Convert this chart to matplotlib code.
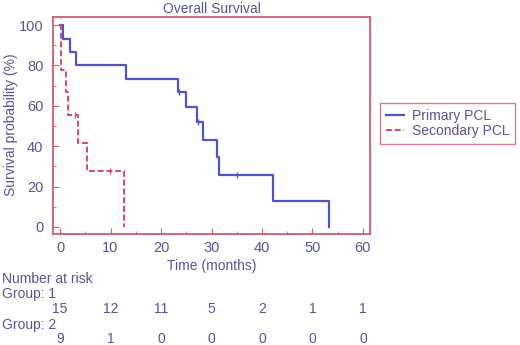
import matplotlib
matplotlib.use("Agg")
import matplotlib.pyplot as plt

plt.rcParams['font.family'] = ['Liberation Sans', 'DejaVu Sans']

# Kaplan-Meier step data (months, survival %)
prim_t = [0, 0.6, 2.0, 3.2, 13.1, 23.3, 24.9, 27.2, 28.3, 31.1, 31.5, 42.2, 53.3]
prim_s = [100, 93.3, 86.7, 80.0, 73.3, 66.7, 59.3, 51.9, 43.2, 34.6, 25.9, 13.0, 0]
prim_cens_t = [23.5, 27.4, 35.0]
prim_cens_s = [66.7, 51.9, 25.9]

sec_t = [0, 0.2, 1.1, 1.5, 3.5, 5.3, 12.7]
sec_s = [100, 77.8, 66.7, 55.6, 41.7, 27.8, 0]
sec_cens_t = [9.9, 3.0]
sec_cens_s = [27.8, 55.6]

risk_times = [0, 10, 20, 30, 40, 50, 60]
risk_g1 = [15, 12, 11, 5, 2, 1, 1]
risk_g2 = [9, 1, 0, 0, 0, 0, 0]

blue = "#5353c4"
red = "#d24a6a"
txt = "#55558f"
frame = "#cf5a72"

fig = plt.figure(figsize=(5.2, 3.45), dpi=100)
ax = fig.add_axes([53/520, 1-234/345, 317/520, 217/345])

ax.step(prim_t, prim_s, where='post', color=blue, lw=1.6, label='Primary PCL')
ax.step(sec_t, sec_s, where='post', color=red, lw=1.4, ls=(0, (3, 1.5)), label='Secondary PCL')
ax.plot(prim_cens_t, prim_cens_s, '|', color=blue, ms=5, mew=1)
ax.plot(sec_cens_t, sec_cens_s, '|', color=red, ms=5, mew=1)

ax.set_xlim(-1.4, 61.4)
ax.set_ylim(-3.5, 104)
ax.set_xticks(range(0, 61, 10))
ax.set_xticks(range(5, 61, 10), minor=True)
ax.set_yticks(range(0, 101, 20))
ax.set_yticks(range(10, 101, 20), minor=True)
ax.tick_params(direction='in', colors=frame, labelcolor=txt, labelsize=10.5, length=4)
ax.tick_params(which='minor', direction='in', colors=frame, length=2.5)
ax.tick_params(axis='x', pad=5)
ax.tick_params(axis='y', pad=7)
for s in ax.spines.values():
    s.set_color(frame)
    s.set_linewidth(1.3)

ax.set_xlabel('Time (months)', color=txt, fontsize=10, labelpad=3)
fig.text(11/520, 1-125/345, 'Survival probability (%)', color=txt, fontsize=10,
         rotation=90, ha='center', va='center')
ax.set_title('Overall Survival', color=txt, fontsize=10, pad=3)

leg = ax.legend(loc='upper left', bbox_to_anchor=(380/520, 1-103/345), bbox_transform=fig.transFigure,
                fontsize=10, frameon=True, fancybox=False, handlelength=1.3,
                borderpad=0.4, labelspacing=0.1, handletextpad=0.6, borderaxespad=0)
leg.get_frame().set_edgecolor(frame)
leg.get_frame().set_linewidth(1.0)
for t in leg.get_texts():
    t.set_color(txt)

# number at risk table
fig.text(2/520, 1-279/345, 'Number at risk', color=txt, fontsize=10, va='center')
fig.text(2/520, 1-294/345, 'Group: 1', color=txt, fontsize=10, va='center')
fig.text(2/520, 1-325/345, 'Group: 2', color=txt, fontsize=10, va='center')
for t, a, b in zip(risk_times, risk_g1, risk_g2):
    xf = ax.transData.transform((t, 0))[0] / fig.bbox.width
    fig.text(xf, 1-309/345, str(a), color=txt, fontsize=10, ha='center', va='center')
    fig.text(xf, 1-339/345, str(b), color=txt, fontsize=10, ha='center', va='center')

fig.savefig('out.png', dpi=100)
